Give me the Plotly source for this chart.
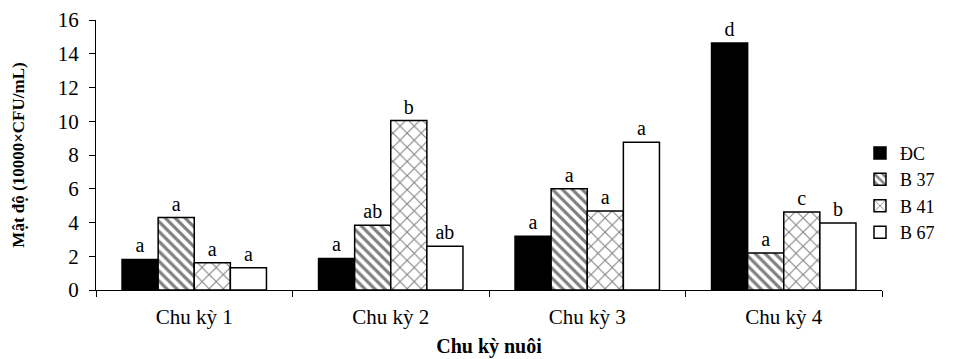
import plotly.graph_objects as go

# Bacterial density per rearing cycle (10000 x CFU/mL)
categories = ["Chu kỳ 1", "Chu kỳ 2", "Chu kỳ 3", "Chu kỳ 4"]
series_names = ["ĐC", "B 37", "B 41", "B 67"]
dc_values = [1.81, 1.87, 3.19, 14.64]
b37_values = [4.29, 3.84, 6.00, 2.20]
b41_values = [1.61, 10.04, 4.68, 4.62]
b67_values = [1.32, 2.60, 8.75, 3.97]
dc_letters = ["a", "a", "a", "d"]
b37_letters = ["a", "ab", "a", "a"]
b41_letters = ["a", "b", "a", "c"]
b67_letters = ["a", "ab", "a", "b"]
y_ticks = [0, 2, 4, 6, 8, 10, 12, 14, 16]

FONT = "Liberation Serif"

styles = [
    dict(color="black", pattern=None),
    dict(color="white", pattern=dict(shape="\\", fgcolor="black", bgcolor="white", size=7, solidity=0.45)),
    dict(color="white", pattern=dict(shape="x", fgcolor="black", bgcolor="white", size=10, solidity=0.2)),
    dict(color="white", pattern=None),
]

fig = go.Figure()
for name, vals, letters, st in zip(
    series_names,
    [dc_values, b37_values, b41_values, b67_values],
    [dc_letters, b37_letters, b41_letters, b67_letters],
    styles,
):
    marker = dict(color=st["color"], line=dict(color="black", width=1.5))
    if st["pattern"]:
        marker["pattern"] = st["pattern"]
    fig.add_trace(go.Bar(
        name=name, x=categories, y=vals, text=letters,
        textposition="outside", cliponaxis=False, constraintext="none",
        textfont=dict(family=FONT, size=20, color="black"),
        marker=marker,
    ))

fig.update_layout(
    width=957, height=359,
    margin=dict(l=96, r=75, t=20, b=69),
    paper_bgcolor="white", plot_bgcolor="white",
    barmode="group", bargap=0.265, bargroupgap=0,
    font=dict(family=FONT, size=20, color="black"),
    showlegend=True,
    legend=dict(
        x=0.972, y=0.575, xanchor="left", yanchor="top",
        font=dict(family=FONT, size=18),
        bgcolor="rgba(0,0,0,0)", itemwidth=30,
    ),
    xaxis=dict(
        automargin=False,
        showline=True, linecolor="black", linewidth=1,
        ticks="outside", tickson="boundaries", ticklen=6, tickcolor="black",
        tickfont=dict(family=FONT, size=21), ticklabelstandoff=8,
        title=dict(text="<b>Chu kỳ nuôi</b>", font=dict(family=FONT, size=20), standoff=10),
    ),
    yaxis=dict(
        automargin=False,
        range=[0, 16], tickvals=y_ticks, showgrid=False, zeroline=False,
        showline=True, linecolor="black", linewidth=1,
        ticks="outside", ticklen=6, tickcolor="black",
        tickfont=dict(family=FONT, size=21), ticklabelstandoff=6,
        title=dict(text="<b>Mật độ (10000×CFU/mL)</b>", font=dict(family=FONT, size=17), standoff=28),
    ),
)

fig.write_html("out.html")
